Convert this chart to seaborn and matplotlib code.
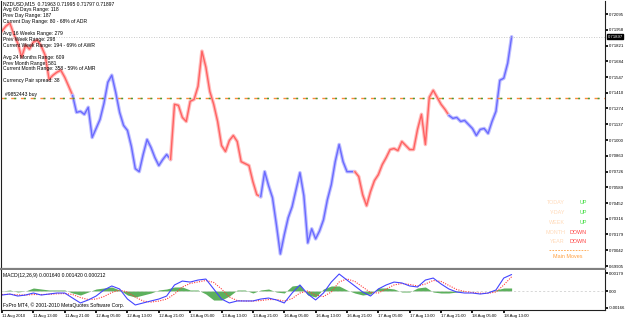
import numpy as np
import pandas as pd
import matplotlib
matplotlib.use("Agg")
import matplotlib.pyplot as plt
import matplotlib.transforms as mtransforms
from matplotlib.lines import Line2D
import seaborn as sns

# NZDUSD M15 - prix, une valeur par heure
price = [
    0.71947, 0.71990, 0.72016, 0.71920, 0.71842, 0.71720, 0.71825, 0.71790, 0.71851, 0.71868,
    0.71816, 0.71737, 0.71528, 0.71563, 0.71589, 0.71606, 0.71545, 0.71467, 0.71388, 0.71240,
    0.71249, 0.71223, 0.71284, 0.71022, 0.71100, 0.71179, 0.71318, 0.71502, 0.71563, 0.71414,
    0.71240, 0.71127, 0.71083, 0.70943, 0.70751, 0.70725, 0.70874, 0.71004, 0.70935, 0.70847,
    0.70778, 0.70830, 0.70874, 0.70830, 0.71310, 0.71301, 0.71196, 0.71161, 0.71336, 0.71353,
    0.71467, 0.71772, 0.71633, 0.71423, 0.71310, 0.71161, 0.70952, 0.70900, 0.70996, 0.71039,
    0.70987, 0.70812, 0.70795, 0.70778, 0.70638, 0.70525, 0.70507, 0.70725, 0.70603, 0.70498,
    0.70263, 0.70010, 0.70176, 0.70324, 0.70420, 0.70568, 0.70716, 0.70516, 0.70106, 0.70228,
    0.70141, 0.70210, 0.70306, 0.70481, 0.70612, 0.70812, 0.70961, 0.70812, 0.70725, 0.70725,
    0.70725, 0.70682, 0.70525, 0.70429, 0.70551, 0.70647, 0.70699, 0.70786, 0.70847, 0.70917,
    0.70926, 0.70908, 0.70987, 0.70952, 0.70917, 0.70917, 0.71092, 0.71223, 0.70961, 0.71371,
    0.71432, 0.71371, 0.71310, 0.71266, 0.71214, 0.71188, 0.71196, 0.71161, 0.71170, 0.71135,
    0.71100, 0.71039, 0.71092, 0.71100, 0.71057, 0.71161, 0.71249, 0.71519, 0.71537, 0.71668,
    0.71897,
]

# couleur de tendance par segment (heure de debut, heure de fin)
seg_start = [0, 18, 43, 66, 90, 114]
seg_end = [18, 43, 66, 90, 114, 130]
seg_color = ["red", "blue", "red", "blue", "red", "blue"]

# MACD(12,26,9) - une valeur toutes les 2 heures
macd_main = [
    -0.00040, -0.00030, -0.00050, -0.00040, -0.00020, -0.00040, -0.00030, -0.00020, -0.00020, -0.00070,
    -0.00119, -0.00089, -0.00050, 0.00010, 0.00050, 0.00020, -0.00080, -0.00139, -0.00119, -0.00099,
    -0.00080, -0.00050, 0.00060, 0.00099, 0.00089, 0.00109, 0.00119, 0.00020, -0.00080, -0.00119,
    -0.00099, -0.00099, -0.00099, -0.00080, -0.00070, -0.00089, -0.00119, -0.00020, 0.00060, -0.00030,
    -0.00089, -0.00020, 0.00089, 0.00169, 0.00109, 0.00050, -0.00010, -0.00050, 0.00020, 0.00060,
    0.00089, 0.00080, 0.00050, 0.00040, 0.00109, 0.00129, 0.00070, 0.00020, -0.00010, -0.00020,
    -0.00020, -0.00030, -0.00020, 0.00010, 0.00129, 0.00164,
]
macd_signal = [
    -0.00035, -0.00033, -0.00038, -0.00040, -0.00035, -0.00035, -0.00033, -0.00028, -0.00025, -0.00035,
    -0.00065, -0.00085, -0.00080, -0.00055, -0.00015, 0.00010, -0.00010, -0.00060, -0.00100, -0.00110,
    -0.00100, -0.00080, -0.00030, 0.00040, 0.00075, 0.00090, 0.00105, 0.00085, 0.00020, -0.00060,
    -0.00095, -0.00100, -0.00100, -0.00095, -0.00085, -0.00085, -0.00100, -0.00075, -0.00020, 0.00000,
    -0.00040, -0.00055, -0.00010, 0.00090, 0.00120, 0.00095, 0.00040, -0.00015, -0.00020, 0.00020,
    0.00060, 0.00075, 0.00065, 0.00050, 0.00070, 0.00105, 0.00095, 0.00055, 0.00015, -0.00005,
    -0.00015, -0.00022, -0.00022, -0.00010, 0.00060, 0.00142,
]
macd_hist = [
    0.0000, 0.0001, -0.0001, 0.0000, 0.0003, 0.0002, 0.0001, 0.0001, 0.0001, -0.0002,
    -0.0004, -0.0001, 0.0002, 0.0003, 0.0004, 0.0001, -0.0004, -0.0006, -0.0004, -0.0002,
    0.0001, 0.0002, 0.0004, 0.0004, 0.0001, 0.0001, -0.0003, -0.0009, -0.0009, -0.0005,
    0.0001, 0.0001, -0.0002, 0.0001, 0.0002, -0.0001, -0.0002, 0.0005, 0.0006, -0.0004,
    -0.0006, 0.0002, 0.0005, 0.0005, 0.0001, -0.0002, -0.0004, -0.0003, 0.0003, 0.0003,
    0.0002, -0.0001, -0.0001, 0.0003, 0.0004, -0.0001, -0.0002, -0.0002, -0.0001, 0.0000,
    0.0000, 0.0000, 0.0000, 0.0001, 0.0003, 0.0003,
]

price_ticks = [0.72095, 0.71958, 0.71821, 0.71684, 0.71547, 0.71410, 0.71274, 0.71137, 0.71000,
               0.70863, 0.70726, 0.70589, 0.70452, 0.70316, 0.70179, 0.70042, 0.69905]
price_tick_labels = ["%.5f" % p for p in price_ticks]
macd_ticks = [0.00179, 0.0, -0.00166]
macd_tick_labels = ["0.00179", "0.00", "-0.00166"]
time_labels = ["11 Aug 2010", "11 Aug 13:00", "11 Aug 21:00", "12 Aug 05:00", "12 Aug 13:00",
               "12 Aug 21:00", "13 Aug 05:00", "13 Aug 13:00", "13 Aug 21:00", "16 Aug 05:00",
               "16 Aug 13:00", "16 Aug 21:00", "17 Aug 05:00", "17 Aug 13:00", "17 Aug 21:00",
               "18 Aug 05:00", "18 Aug 13:00"]
current_price = 0.71897
order_price = 0.71362
info_lines = ["NZDUSD,M15  0.71963 0.71995 0.71797 0.71897",
              "Avg 60 Days Range: 118", "Prev Day Range: 187",
              "Current Day Range: 80 - 68% of ADR", "",
              "Avg 16 Weeks Range: 279", "Prev Week Range: 298",
              "Current Week Range: 194 - 69% of AWR", "",
              "Avg 24 Months Range: 609", "Prev Month Range: 581",
              "Current Month Range: 358 - 59% of AMR", "",
              "Currency Pair spread: 38"]
moves_names = ["TODAY", "Y-DAY", "WEEK", "MONTH", "YEAR"]
moves_dirs = ["UP", "UP", "UP", "DOWN", "DOWN"]

sns.set_theme(style="white")
plt.rcParams['font.family'] = ['Liberation Sans', 'DejaVu Sans']
fs = 3.6      # petits textes
fs_ax = 3.05  # graduations

W, H = 625, 319
fig = plt.figure(figsize=(W / 100, H / 100), dpi=100)
fig.patch.set_facecolor("white")

def fx(px):
    return px / W

def fy(py):
    return 1 - py / H

right_px = 605
ax = fig.add_axes([fx(1), fy(269), fx(right_px - 1), 268 / H])
ax2 = fig.add_axes([fx(1), fy(310), fx(right_px - 1), 40 / H])

couleurs = {"red": ("#FFBDBD", "#FF6262"), "blue": ("#C0C0FF", "#6A6AFF")}
heures = np.arange(len(price))
for s, e, c in zip(seg_start, seg_end, seg_color):
    df = pd.DataFrame({"heure": heures[s:e + 1], "prix": price[s:e + 1]})
    sns.lineplot(data=df, x="heure", y="prix", ax=ax, color=couleurs[c][0], lw=2.6, estimator=None)
    sns.lineplot(data=df, x="heure", y="prix", ax=ax, color=couleurs[c][1], lw=1.0, estimator=None)

ax.axhline(current_price, color="#B8B8B8", ls=(0, (1, 2)), lw=0.6)
ax.axhline(order_price, color="#FF8A3C", ls=(0, (3.5, 3.5)), lw=1.0)
ax.axhline(order_price, color="#3CA03C", ls=(4.8, (1.4, 5.6)), lw=1.0)

xmin = -0.26
xmax = xmin + (right_px - 1) / 3.92
ax.set_xlim(xmin, xmax)
ax.set_ylim(0.69879, 0.72208)
ax.set_xticks([])
ax.set_xlabel("")
ax.set_ylabel("")
ax.yaxis.tick_right()
ax.set_yticks(price_ticks, price_tick_labels)
ax.tick_params(axis="y", labelsize=fs_ax, length=2, pad=0.8, colors="black", right=True, left=False)
for sp in ["left", "right"]:
    ax.spines[sp].set_color("#202020")
    ax.spines[sp].set_linewidth(0.8)
ax.spines["top"].set_visible(False)
ax.spines["bottom"].set_color("#808080")
ax.spines["bottom"].set_linewidth(1.6)

trans = mtransforms.blended_transform_factory(ax.transAxes, ax.transData)
ax.text(1.004, current_price, "%.5f" % current_price, transform=trans, fontsize=fs_ax, color="white",
        va="center", ha="left", bbox=dict(facecolor="black", edgecolor="black", pad=0.3))
ax.text(4 / (right_px - 1), order_price + 0.00012, "#9852443 buy", transform=trans, fontsize=fs,
        color="black", va="bottom", ha="left")

for i, line in enumerate(info_lines):
    fig.text(fx(3), fy(4 + 5.9 * i), line, fontsize=fs, color="black", va="center", ha="left")

for i, (n, d) in enumerate(zip(moves_names, moves_dirs)):
    yy = fy(203 + 9.7 * i)
    fig.text(fx(565), yy, n, fontsize=fs + 0.3, color="#FFDAB9", ha="right", va="center")
    fig.text(fx(587), yy, d, fontsize=fs + 0.3, color="#44DD44" if d == "UP" else "#FF4040",
             ha="right", va="center")
fig.add_artist(Line2D([fx(549), fx(588)], [fy(250), fy(250)], color="#FFA040", lw=0.6, ls=(0, (2, 1.5))))
fig.text(fx(568), fy(256), "Main Moves", fontsize=fs + 0.3, color="#FFA040", ha="center", va="center")

# MACD
heures2 = np.arange(len(macd_main)) * 2
dm = pd.DataFrame({"heure": heures2, "main": macd_main, "signal": macd_signal, "hist": macd_hist})
ax2.fill_between(dm["heure"], 0, dm["hist"], color="#5DB05D", lw=0)
ax2.axhline(0, color="#C8C8C8", ls=(0, (3, 3)), lw=0.5)
sns.lineplot(data=dm, x="heure", y="signal", ax=ax2, color="#FF3C3C", lw=0.8, ls=(0, (1, 1.2)), estimator=None)
sns.lineplot(data=dm, x="heure", y="main", ax=ax2, color="#4444FF", lw=0.8, estimator=None)
ax2.set_xlim(xmin, xmax)
ax2.set_ylim(-0.00189, 0.00209)
ax2.set_xlabel("")
ax2.set_ylabel("")
ax2.yaxis.tick_right()
ax2.set_yticks(macd_ticks, macd_tick_labels)
ax2.set_xticks(np.arange(len(time_labels)) * 8, time_labels, ha="left")
ax2.tick_params(axis="y", labelsize=fs_ax, length=2, pad=0.8, colors="black", right=True, left=False)
ax2.tick_params(axis="x", labelsize=fs_ax, length=2, pad=1, colors="black", bottom=True)
ax2.spines["top"].set_visible(False)
for sp in ["left", "right", "bottom"]:
    ax2.spines[sp].set_color("#202020")
    ax2.spines[sp].set_linewidth(0.8)

fig.text(fx(3), fy(276), "MACD(12,26,9) 0.001640 0.001420 0.000212", fontsize=fs, color="black",
         va="center", ha="left")
fig.text(fx(3), fy(305), "FxPro MT4, \u00a9 2001-2010 MetaQuotes Software Corp.", fontsize=fs,
         color="black", va="center", ha="left")

fig.savefig("out.png", dpi=100)
